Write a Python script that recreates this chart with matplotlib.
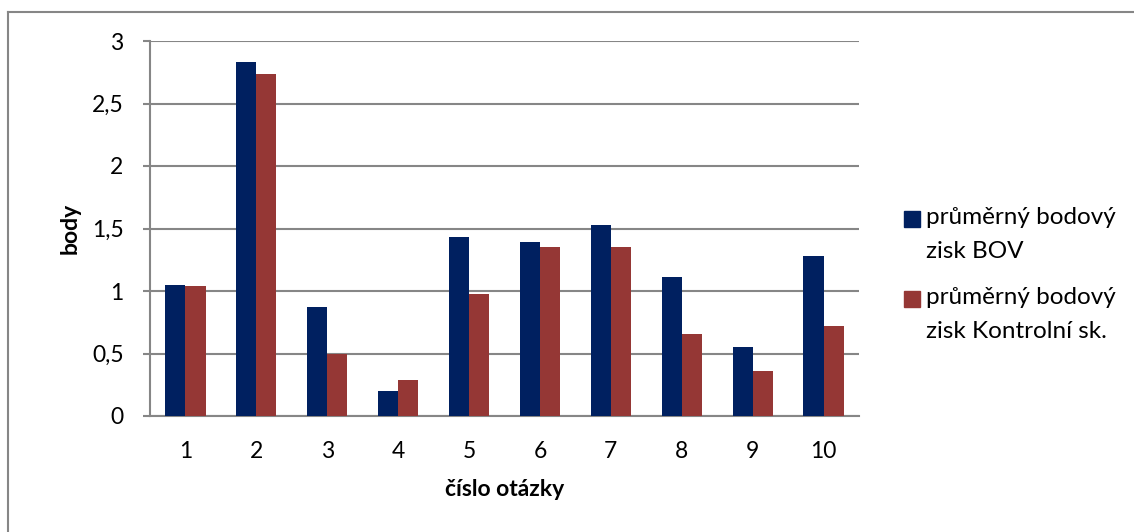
import numpy as np
import matplotlib
matplotlib.use("Agg")
import matplotlib.pyplot as plt
from matplotlib.patches import Rectangle
from matplotlib.lines import Line2D

plt.rcParams['font.family'] = ['Lato', 'DejaVu Sans']

otazky = ['1', '2', '3', '4', '5', '6', '7', '8', '9', '10']
bov = [1.05, 2.83, 0.87, 0.20, 1.43, 1.39, 1.53, 1.11, 0.55, 1.28]
kontrolni = [1.04, 2.74, 0.50, 0.29, 0.98, 1.35, 1.35, 0.66, 0.36, 0.72]
nazvy = ['průměrný bodový\nzisk BOV', 'průměrný bodový\nzisk Kontrolní sk.']
barvy = ['#002060', '#953735']

W, H = 1134, 532
fig = plt.figure(figsize=(W / 100, H / 100), dpi=100)
ax = fig.add_axes([150 / W, 1 - 416 / H, (859 - 150) / W, (416 - 41) / H])

x = np.arange(len(otazky))
w = 0.283
ax.bar(x - w / 2, bov, w, color=barvy[0], zorder=3)
ax.bar(x + w / 2, kontrolni, w, color=barvy[1], zorder=3)

ax.set_xlim(-0.5, len(otazky) - 0.5)
ax.set_ylim(0, 3)
ax.set_yticks(np.arange(0, 3.01, 0.5))
ax.set_yticklabels(['0', '0,5', '1', '1,5', '2', '2,5', '3'])
ax.set_xticks(x)
ax.set_xticklabels(otazky)

fs = 16.5
grey = '#868686'
ax.grid(axis='y', color=grey, lw=1.5, zorder=0)
for s in ['top', 'right']:
    ax.spines[s].set_visible(False)
for s in ['left', 'bottom']:
    ax.spines[s].set_color(grey)
    ax.spines[s].set_linewidth(1.5)
ax.tick_params(axis='y', length=5, width=1.5, color=grey, pad=14, labelsize=fs)
ax.tick_params(axis='x', length=0, pad=18, labelsize=fs)

ax.set_ylabel('body', fontsize=fs, fontweight='bold', labelpad=8)
ax.set_xlabel('číslo otázky', fontsize=fs, fontweight='bold', labelpad=12)

# frame around the chart area
fig.add_artist(Line2D([7.5 / W, 7.5 / W], [0, 1 - 11.5 / H], color=grey, lw=1.5))
fig.add_artist(Line2D([7.5 / W, 1], [1 - 11.5 / H, 1 - 11.5 / H], color=grey, lw=1.5))

# legend
for i, (nazev, barva) in enumerate(zip(nazvy, barvy)):
    top = 211 + i * 80
    fig.add_artist(Rectangle((904 / W, 1 - (top + 16) / H), 16 / W, 16 / H,
                             color=barva, transform=fig.transFigure))
    fig.text(926 / W, 1 - (top - 4) / H, nazev, fontsize=17.5, va='top',
             linespacing=1.78)

fig.savefig('out.png', dpi=100)
